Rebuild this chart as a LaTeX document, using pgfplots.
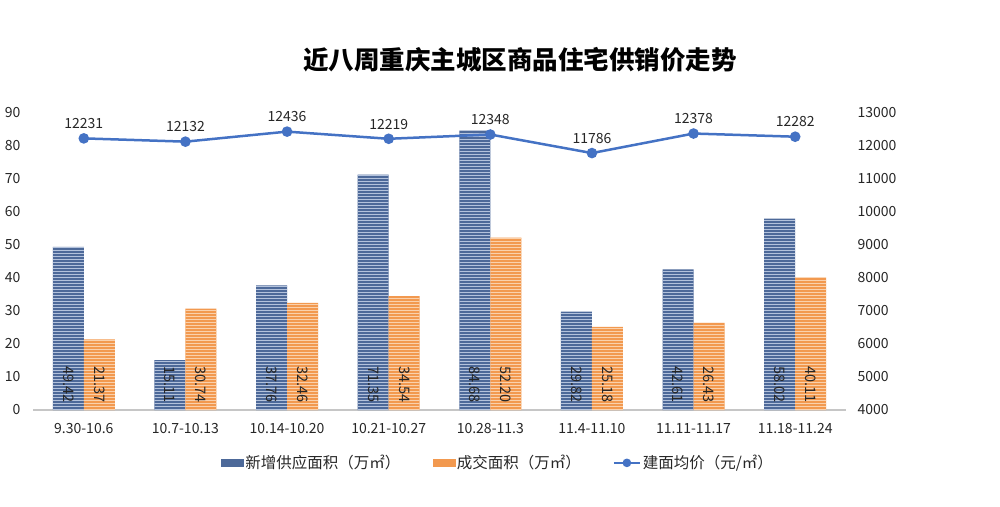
\documentclass[border=0pt]{standalone}
\usepackage{pgfplots}
\pgfplotsset{compat=1.18}
\usetikzlibrary{patterns}
\usepackage{fontspec}
\setmainfont{Noto Sans CJK SC}

\definecolor{barblue}{HTML}{4D6999}
\definecolor{stripeblue}{HTML}{B3C2DC}
\definecolor{barorange}{HTML}{F2994F}
\definecolor{stripeorange}{HTML}{FAD1AC}
\definecolor{lineblue}{HTML}{4472C4}
\definecolor{txt}{HTML}{262626}

\begin{document}
\begin{tikzpicture}
\path[use as bounding box] (0,0) rectangle (1000pt,506pt);

\node[font=\fontsize{25.5}{28}\selectfont\bfseries, text=black] at (520pt,446pt) {近八周重庆主城区商品住宅供销价走势};

\begin{axis}[
  at={(33pt,96pt)}, anchor=south west,
  scale only axis, width=813pt, height=297pt,
  xmin=-0.5, xmax=7.5, ymin=0, ymax=90,
  ytick={0,10,...,90},
  xtick={0,...,7},
  xticklabels={9.30-10.6,10.7-10.13,10.14-10.20,10.21-10.27,10.28-11.3,11.4-11.10,11.11-11.17,11.18-11.24},
  axis x line*=bottom, axis y line*=left,
  x axis line style={draw=gray!45, line width=1.2pt, -},
  y axis line style={draw=none},
  major tick length=0pt,
  /pgf/number format/assume math mode=true,
  ticklabel style={font=\fontsize{14}{16}\selectfont, text=txt},
  yticklabel style={xshift=-9pt},
  xticklabel style={yshift=-10pt},
  clip=false,
]
\addplot[ybar, bar width=31pt, bar shift=-15.5pt, fill=barblue, draw=none,
  postaction={pattern=horizontal lines, pattern color=stripeblue}]
  coordinates {(0,49.42) (1,15.11) (2,37.76) (3,71.35) (4,84.68) (5,29.82) (6,42.61) (7,58.02)};
\addplot[ybar, bar width=31pt, bar shift=15.5pt, fill=barorange, draw=none,
  postaction={pattern=horizontal lines, pattern color=stripeorange}]
  coordinates {(0,21.37) (1,30.74) (2,32.46) (3,34.54) (4,52.20) (5,25.18) (6,26.43) (7,40.11)};
% value labels at the foot of the bars
\addplot[draw=none, mark=none, point meta=explicit symbolic, nodes near coords,
  nodes near coords style={rotate=-90, anchor=center, text=txt, font=\fontsize{14.5}{16}\selectfont}]
  coordinates {(-0.1525,7.6)[49.42] (0.8475,7.6)[15.11] (1.8475,7.6)[37.76] (2.8475,7.6)[71.35]
               (3.8475,7.6)[84.68] (4.8475,7.6)[29.82] (5.8475,7.6)[42.61] (6.8475,7.6)[58.02]};
\addplot[draw=none, mark=none, point meta=explicit symbolic, nodes near coords,
  nodes near coords style={rotate=-90, anchor=center, text=txt, font=\fontsize{14.5}{16}\selectfont}]
  coordinates {(0.1525,7.6)[21.37] (1.1525,7.6)[30.74] (2.1525,7.6)[32.46] (3.1525,7.6)[34.54]
               (4.1525,7.6)[52.20] (5.1525,7.6)[25.18] (6.1525,7.6)[26.43] (7.1525,7.6)[40.11]};
\end{axis}

\begin{axis}[
  at={(33pt,96pt)}, anchor=south west,
  scale only axis, width=813pt, height=297pt,
  xmin=-0.5, xmax=7.5, ymin=4000, ymax=13000,
  ytick={4000,5000,...,13000},
  scaled y ticks=false,
  axis x line=none, axis y line*=right,
  y axis line style={draw=none},
  major tick length=0pt,
  /pgf/number format/assume math mode=true,
  /pgf/number format/1000 sep={},
  ticklabel style={font=\fontsize{14}{16}\selectfont, text=txt},
  yticklabel style={xshift=8pt},
  clip=false,
  legend style={at={(0.572,-0.178)}, anchor=center, draw=none, fill=none,
    legend columns=-1, font=\fontsize{15.5}{18}\selectfont, text=txt,
    /tikz/every even column/.append style={column sep=30pt}},
]
\addlegendimage{legend image code/.code={\fill[barblue] (0pt,-3.5pt) rectangle (22pt,3.5pt);}}
\addlegendentry{新增供应面积（万㎡）}
\addlegendimage{legend image code/.code={\fill[barorange] (0pt,-3.5pt) rectangle (22pt,3.5pt);}}
\addlegendentry{成交面积（万㎡）}
\addplot[lineblue, line width=2.5pt, mark=*, mark size=4pt, mark options={fill=lineblue, draw=lineblue},
  nodes near coords, point meta=explicit symbolic,
  nodes near coords style={anchor=south, yshift=5pt, text=txt, font=\fontsize{14}{16}\selectfont},
  legend image code/.code={\draw[lineblue, line width=2pt] (0pt,0pt) -- (26pt,0pt);
    \fill[lineblue] (13pt,0pt) circle (3pt);}]
  coordinates {(0,12231)[12231] (1,12132)[12132] (2,12436)[12436] (3,12219)[12219]
               (4,12348)[12348] (5,11786)[11786] (6,12378)[12378] (7,12282)[12282]};
\addlegendentry{建面均价（元/㎡）}
\end{axis}
\end{tikzpicture}
\end{document}
